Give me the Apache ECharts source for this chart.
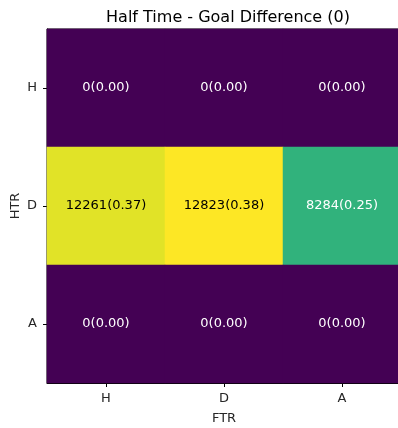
<!DOCTYPE html>
<html>
<head>
<meta charset="utf-8">
<script src="https://cdn.jsdelivr.net/npm/echarts@6/dist/echarts.min.js"></script>
<style>
  html, body { margin: 0; padding: 0; background: #fff; }
  #chart { width: 398px; height: 428px; }
</style>
</head>
<body>
<div id="chart"></div>
<script>
const ftrLabels = ["H", "D", "A"];
const htrLabels = ["H", "D", "A"];
// rows = HTR, columns = FTR
const counts = [
  [0, 0, 0],
  [12261, 12823, 8284],
  [0, 0, 0],
];
const ratios = [
  [0.0, 0.0, 0.0],
  [0.37, 0.38, 0.25],
  [0.0, 0.0, 0.0],
];

const viridis = ["#440154", "#482878", "#3e4989", "#31688e", "#26828e", "#1f9e89", "#35b779", "#6ece58", "#b5de2b", "#fde725"];
const maxCount = Math.max(...counts.flat());

const cells = [];
counts.forEach((row, r) => {
  row.forEach((v, c) => {
    cells.push({
      value: [c, r, v],
      label: { color: v / maxCount > 0.75 ? "#000000" : "#ffffff" },
    });
  });
});

const chart = echarts.init(document.getElementById("chart"), null, { renderer: "canvas" });
chart.setOption({
  animation: false,
  title: {
    text: "Half Time - Goal Difference (0)",
    left: 223,
    textAlign: "center",
    top: 5,
    textStyle: { fontFamily: "DejaVu Sans", fontSize: 16, fontWeight: "normal", color: "#000" },
  },
  grid: {
    left: 47, top: 29, width: 354, height: 354,
    outerBoundsMode: "none",
    containLabel: false,
    show: true, borderColor: "#000", borderWidth: 1, backgroundColor: "transparent",
  },
  xAxis: {
    type: "category",
    data: ftrLabels,
    name: "FTR",
    nameLocation: "middle",
    nameGap: 29,
    nameMoveOverlap: false,
    nameTextStyle: { fontFamily: "DejaVu Sans", fontSize: 13, color: "#262626" },
    axisLine: { show: true, lineStyle: { color: "#000" } },
    axisTick: { show: true, alignWithLabel: true, length: 4, lineStyle: { color: "#000" } },
    axisLabel: { fontFamily: "DejaVu Sans", fontSize: 13, color: "#262626", margin: 9 },
    splitLine: { show: false },
  },
  yAxis: {
    type: "category",
    data: htrLabels,
    inverse: true,
    name: "HTR",
    nameLocation: "middle",
    nameGap: 25,
    nameMoveOverlap: false,
    nameRotate: 90,
    nameTextStyle: { fontFamily: "DejaVu Sans", fontSize: 13, color: "#262626" },
    axisLine: { show: true, lineStyle: { color: "#000" } },
    axisTick: { show: true, alignWithLabel: true, length: 4, lineStyle: { color: "#000" } },
    axisLabel: { fontFamily: "DejaVu Sans", fontSize: 13, color: "#262626", margin: 10 },
    splitLine: { show: false },
  },
  visualMap: {
    show: false,
    min: 0,
    max: maxCount,
    dimension: 2,
    inRange: { color: viridis },
  },
  series: [{
    type: "heatmap",
    data: cells,
    label: {
      show: true,
      fontFamily: "DejaVu Sans",
      fontSize: 13,
      formatter: (p) => {
        const c = p.value[0], r = p.value[1];
        return counts[r][c] + "(" + ratios[r][c].toFixed(2) + ")";
      },
    },
    itemStyle: { borderWidth: 0 },
    emphasis: { disabled: true },
  }],
});
</script>
</body>
</html>
